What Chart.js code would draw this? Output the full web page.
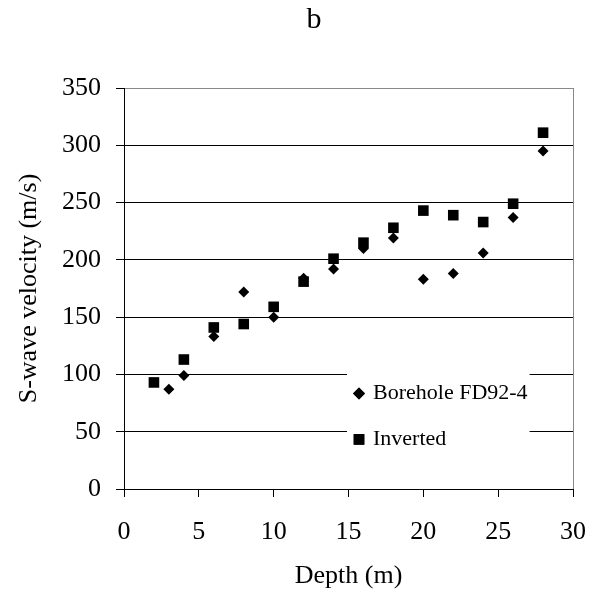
<!DOCTYPE html>
<html>
<head>
<meta charset="utf-8">
<script src="https://cdn.jsdelivr.net/npm/chart.js@4/dist/chart.umd.min.js"></script>
<style>
  html, body { margin: 0; padding: 0; background: #fff; }
  #wrap { width: 592px; height: 598px; }
</style>
</head>
<body>
<div id="wrap"><canvas id="vs-chart" width="592" height="598"></canvas></div>
<script>
var chartTitle = 'b';
var xTitle = 'Depth (m)';
var yTitle = 'S-wave velocity (m/s)';

var boreholeLabel = 'Borehole FD92-4';
var boreholeDepth = [3, 4, 6, 8, 10, 12, 14, 16, 18, 20, 22, 24, 26, 28];
var boreholeVs = [87, 99, 133, 172, 150, 184, 192, 210, 219, 183, 188, 206, 237, 295];

var invertedLabel = 'Inverted';
var invertedDepth = [2, 4, 6, 8, 10, 12, 14, 16, 18, 20, 22, 24, 26, 28];
var invertedVs = [93, 113, 141, 144, 159, 181, 201, 215, 228, 243, 239, 233, 249, 311];

var xTicks = [0, 5, 10, 15, 20, 25, 30];
var yTicks = [0, 50, 100, 150, 200, 250, 300, 350];

var FONT = "'Liberation Serif', 'Times New Roman', serif";

function toPoints(xs, ys) {
    return xs.map(function(x, i) { return { x: x, y: ys[i] }; });
}

// "b" heading, a bit right of the figure centre as in the original
var headingPlugin = {
    id: 'heading',
    afterDraw: function(chart) {
        var ctx = chart.ctx;
        ctx.save();
        ctx.font = '30px ' + FONT;
        ctx.fillStyle = '#000';
        ctx.textAlign = 'center';
        ctx.textBaseline = 'middle';
        ctx.fillText(chartTitle, 314, 20);
        ctx.restore();
    }
};

// legend box sitting inside the plot area, blanking the gridlines behind it
var boxLegendPlugin = {
    id: 'boxLegend',
    afterDatasetsDraw: function(chart) {
        var ctx = chart.ctx;
        var xs = chart.scales.x, ys = chart.scales.y;
        var left = xs.getPixelForValue(14.9), right = xs.getPixelForValue(27.1);
        var top = ys.getPixelForValue(107), bottom = ys.getPixelForValue(24);
        ctx.save();
        ctx.fillStyle = '#fff';
        ctx.fillRect(left, top, right - left, bottom - top);
        ctx.font = '22px ' + FONT;
        ctx.fillStyle = '#000';
        ctx.textBaseline = 'middle';
        chart.data.datasets.forEach(function(ds, i) {
            var cy = top + 27 + i * 46;
            Chart.helpers.drawPoint(ctx, {
                pointStyle: ds.pointStyle,
                radius: ds.pointStyle === 'rect' ? 7.5 : 6,
                borderWidth: 0
            }, left + 12, cy);
            ctx.fillStyle = '#000';
            ctx.fill();
            ctx.fillText(ds.label, left + 26, cy);
        });
        ctx.restore();
    }
};

new Chart(document.getElementById('vs-chart'), {
    type: 'scatter',
    data: {
        datasets: [{
            label: boreholeLabel,
            data: toPoints(boreholeDepth, boreholeVs),
            pointStyle: 'rectRot',
            pointRadius: 5.5,
            backgroundColor: '#000',
            borderColor: '#000',
            borderWidth: 0
        }, {
            label: invertedLabel,
            data: toPoints(invertedDepth, invertedVs),
            pointStyle: 'rect',
            pointRadius: 7.5,
            backgroundColor: '#000',
            borderColor: '#000',
            borderWidth: 0
        }]
    },
    options: {
        responsive: false,
        animation: false,
        events: [],
        layout: { padding: { top: 88, right: 19, left: 0, bottom: 0 } },
        plugins: {
            legend: { display: false },
            title: { display: false },
            tooltip: { enabled: false }
        },
        scales: {
            x: {
                type: 'linear',
                min: 0,
                max: 30,
                afterFit: function(s) {
                    s.height = 109;
                    s.paddingLeft = 0;
                    s.paddingRight = 0;
                },
                afterBuildTicks: function(s) { s.ticks = xTicks.map(function(v) { return { value: v }; }); },
                grid: {
                    drawOnChartArea: true,
                    color: function(c) { return c.tick && c.tick.value === 30 ? '#888' : 'rgba(0,0,0,0)'; },
                    tickColor: '#000',
                    tickLength: 8
                },
                border: { color: '#000', width: 1 },
                ticks: { color: '#000', padding: 20, maxRotation: 0, font: { family: FONT, size: 26 } },
                title: {
                    display: true,
                    text: xTitle,
                    color: '#000',
                    padding: { top: 0, bottom: 6 },
                    font: { family: FONT, size: 26 }
                }
            },
            y: {
                min: 0,
                max: 350,
                afterFit: function(s) { s.width = 124; },
                afterBuildTicks: function(s) { s.ticks = yTicks.map(function(v) { return { value: v }; }); },
                grid: {
                    color: function(c) { return c.tick && c.tick.value === 350 ? '#888' : '#000'; },
                    tickColor: '#000',
                    tickLength: 8
                },
                border: { color: '#000', width: 1 },
                ticks: { color: '#000', padding: 15, font: { family: FONT, size: 26 } },
                title: {
                    display: true,
                    text: yTitle,
                    color: '#000',
                    padding: { top: 14, bottom: 0 },
                    font: { family: FONT, size: 26 }
                }
            }
        }
    },
    plugins: [headingPlugin, boxLegendPlugin]
});
</script>
</body>
</html>
